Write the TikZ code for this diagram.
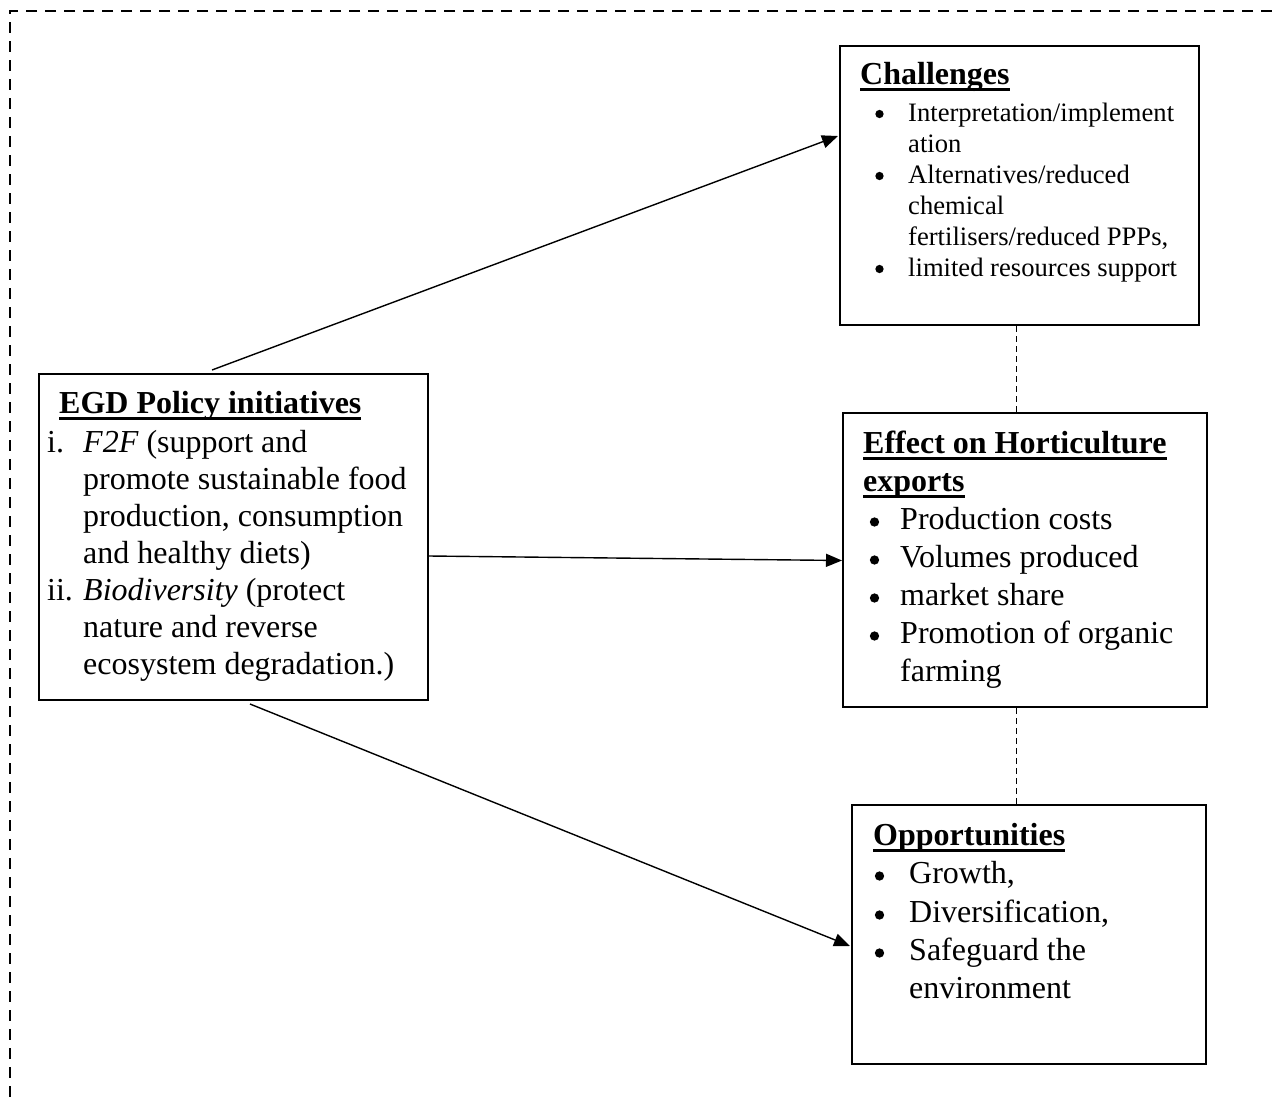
\documentclass[tikz,border=0pt]{standalone}
\usepackage{fontspec}
\setmainfont{Liberation Serif}
\usetikzlibrary{arrows.meta}
\newcommand\myul[1]{\setbox0\hbox{#1}\rlap{\rule[-7pt]{\wd0}{2.8pt}}\box0}
\begin{document}
\begin{tikzpicture}[x=1pt,y=-1pt,
  box/.style={draw,line width=2pt,rectangle,inner sep=0pt},
  ln/.style={anchor=base west,inner sep=0pt,font=\fontsize{32}{37}\selectfont},
  sm/.style={anchor=base west,inner sep=0pt,font=\fontsize{26.6}{31}\selectfont},
  bul/.style={circle,fill,inner sep=0pt,minimum size=9.3pt},
  sbul/.style={circle,fill,inner sep=0pt,minimum size=8.3pt},
  conn/.style={line width=1.4pt,-{Triangle[length=16pt,width=13pt]}},
  link/.style={line width=1pt,dash pattern=on 6pt off 4pt},
  frame/.style={line width=2.6pt,dash pattern=on 11pt off 8pt}]
\useasboundingbox (0,0) rectangle (1272,1103);
% outer dashed frame (top and left sides)
\draw[frame] (1272,11) -- (10,11) -- (10,1103);
% boxes
\node[box,minimum width=359pt,minimum height=279pt] (chal) at (1019.5,185.5) {};
\node[box,minimum width=389pt,minimum height=326pt] (egd) at (233.5,537) {};
\node[box,minimum width=364pt,minimum height=294pt] (eff) at (1025,560) {};
\node[box,minimum width=354pt,minimum height=259pt] (opp) at (1029,934.5) {};
% Challenges
\node[ln] (ch0) at (860,84) {\bfseries\myul{Challenges}};
\node[sbul] (chb1) at (879.5,114) {};
\node[sm] (ch1) at (908,121) {Interpretation/implement};
\node[sm] (ch2) at (908,152) {ation};
\node[sbul] (chb2) at (879.5,176) {};
\node[sm] (ch3) at (908,183) {Alternatives/reduced};
\node[sm] (ch4) at (908,214) {chemical};
\node[sm] (ch5) at (908,245) {fertilisers/reduced PPPs,};
\node[sbul] (chb3) at (879.5,269) {};
\node[sm] (ch6) at (908,276) {limited resources support};
% EGD
\node[ln] (eg0) at (59,413) {\bfseries\myul{EGD Policy initiatives}};
\node[ln] (egn1) at (47,452) {i.};
\node[ln] (eg1) at (83,452) {\textit{F2F} (support and};
\node[ln] (eg2) at (83,489) {promote sustainable food};
\node[ln] (eg3) at (83,526) {production, consumption};
\node[ln] (eg4) at (83,563) {and healthy diets)};
\node[ln] (egn2) at (47,600) {ii.};
\node[ln] (eg5) at (83,600) {\textit{Biodiversity} (protect};
\node[ln] (eg6) at (83,637) {nature and reverse};
\node[ln] (eg7) at (83,674) {ecosystem degradation.)};
% Effect
\node[ln] (ef0) at (863,453) {\bfseries\myul{Effect on Horticulture}};
\node[ln] (ef0b) at (863,491) {\bfseries\myul{exports}};
\node[bul] (efb1) at (874.5,522) {};
\node[ln] (ef1) at (900,529) {Production costs};
\node[bul] (efb2) at (874.5,560) {};
\node[ln] (ef2) at (900,567) {Volumes produced};
\node[bul] (efb3) at (874.5,598) {};
\node[ln] (ef3) at (900,605) {market share};
\node[bul] (efb4) at (874.5,636) {};
\node[ln] (ef4) at (900,643) {Promotion of organic};
\node[ln] (ef5) at (900,681) {farming};
% Opportunities
\node[ln] (op0) at (873,845) {\bfseries\myul{Opportunities}};
\node[bul] (opb1) at (879.5,876) {};
\node[ln] (op1) at (909,883) {Growth,};
\node[bul] (opb2) at (879.5,915) {};
\node[ln] (op2) at (909,922) {Diversification,};
\node[bul] (opb3) at (879.5,953) {};
\node[ln] (op3) at (909,960) {Safeguard the};
\node[ln] (op4) at (909,998) {environment};
% dashed links
\draw[link] (chal.south -| 1016,0) -- (eff.north -| 1016,0);
\draw[link] (eff.south -| 1016,0) -- (opp.north -| 1016,0);
% arrows
\draw[conn] ([xshift=-21.5pt,yshift=3pt]egd.north) -- ([yshift=49.5pt,xshift=-1pt]chal.west);
\draw[conn] ([yshift=-19pt]egd.east) -- ([yshift=-0.5pt]eff.west);
\draw[conn] ([xshift=16.5pt,yshift=-3pt]egd.south) -- ([yshift=-11.5pt,xshift=-1pt]opp.west);
\end{tikzpicture}
\end{document}
